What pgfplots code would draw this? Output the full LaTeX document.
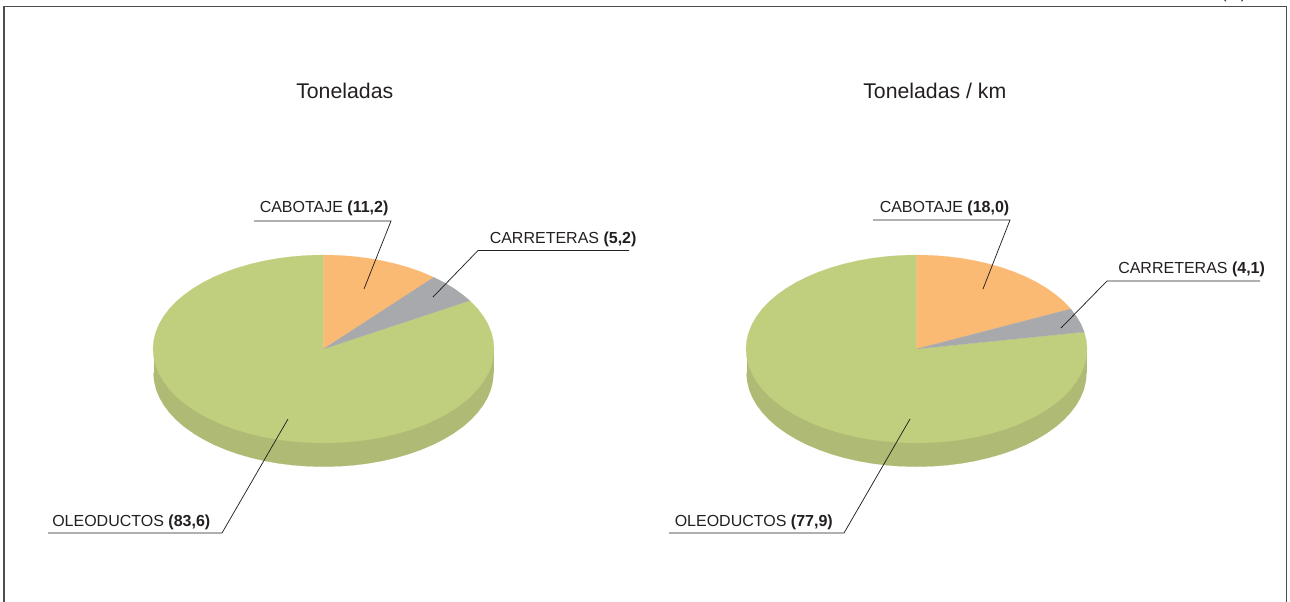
\documentclass[border=0pt]{standalone}
\usepackage{fontspec}
\setmainfont{Liberation Sans}
\usepackage{pgfplots}
\pgfplotsset{compat=1.18}
\definecolor{pgreen}{HTML}{C0CF7E}
\definecolor{pwall}{HTML}{AFBB74}
\definecolor{porange}{HTML}{FBBA74}
\definecolor{pgray}{HTML}{A7A9AC}
\definecolor{ink}{HTML}{231F20}
\definecolor{framec}{HTML}{4D4D4F}
\tikzset{lab/.style={anchor=base west, inner sep=0pt, text=ink, font=\fontsize{12pt}{14pt}\selectfont}}
\pgfplotsset{
  base/.style={scale only axis, width=967.5pt, height=450.75pt, hide axis, at={(0,0)}, anchor=south west},
  pie/.style={base, ymin=-457.1, ymax=633.0},
  w/.style={data cs=polar, fill=#1, draw=#1, line width=0.1pt},
  lead/.style={ink, line width=0.55pt},
  rule/.style={draw=framec, line width=1.05pt},
}
\begin{document}
\begin{tikzpicture}
\clip (0,0) rectangle (967.5pt,450.75pt);
\useasboundingbox (0,0) rectangle (967.5pt,450.75pt);
% ---------- left pie
\begin{axis}[pie, xmin=-323.5, xmax=966.5]
\addplot[fill=pwall, draw=none] coordinates {(-170,0)(170,0)(170,-43.5)(-170,-43.5)} -- cycle;
\addplot[w=pwall, yshift=-18pt] coordinates {(180,170)(185,170)(190,170)(195,170)(200,170)(205,170)(210,170)(215,170)(220,170)(225,170)(230,170)(235,170)(240,170)(245,170)(250,170)(255,170)(260,170)(265,170)(270,170)(275,170)(280,170)(285,170)(290,170)(295,170)(300,170)(305,170)(310,170)(315,170)(320,170)(325,170)(330,170)(335,170)(340,170)(345,170)(350,170)(355,170)(360,170)} -- cycle;
% OLEODUCTOS 83,6
\addplot[w=pgreen] coordinates {(0,0)(30.96,170.5)(30,170.5)(25,170.5)(20,170.5)(15,170.5)(10,170.5)(5,170.5)(0,170.5)(-5,170.5)(-10,170.5)(-15,170.5)(-20,170.5)(-25,170.5)(-30,170.5)(-35,170.5)(-40,170.5)(-45,170.5)(-50,170.5)(-55,170.5)(-60,170.5)(-65,170.5)(-70,170.5)(-75,170.5)(-80,170.5)(-85,170.5)(-90,170.5)(-95,170.5)(-100,170.5)(-105,170.5)(-110,170.5)(-115,170.5)(-120,170.5)(-125,170.5)(-130,170.5)(-135,170.5)(-140,170.5)(-145,170.5)(-150,170.5)(-155,170.5)(-160,170.5)(-165,170.5)(-170,170.5)(-175,170.5)(-180,170.5)(-185,170.5)(-190,170.5)(-195,170.5)(-200,170.5)(-205,170.5)(-210,170.5)(-215,170.5)(-220,170.5)(-225,170.5)(-230,170.5)(-235,170.5)(-240,170.5)(-245,170.5)(-250,170.5)(-255,170.5)(-260,170.5)(-265,170.5)(-270,170.5)} -- cycle;
% CABOTAJE 11,2
\addplot[w=porange] coordinates {(0,0)(90,170.5)(85,170.5)(80,170.5)(75,170.5)(70,170.5)(65,170.5)(60,170.5)(55,170.5)(49.68,170.5)} -- cycle;
% CARRETERAS 5,2
\addplot[w=pgray] coordinates {(0,0)(49.68,170.5)(45,170.5)(40,170.5)(35,170.5)(30.96,170.5)} -- cycle;
\end{axis}
% ---------- right pie
\begin{axis}[pie, xmin=-916.5, xmax=373.5]
\addplot[fill=pwall, draw=none] coordinates {(-170,0)(170,0)(170,-43.5)(-170,-43.5)} -- cycle;
\addplot[w=pwall, yshift=-18pt] coordinates {(180,170)(185,170)(190,170)(195,170)(200,170)(205,170)(210,170)(215,170)(220,170)(225,170)(230,170)(235,170)(240,170)(245,170)(250,170)(255,170)(260,170)(265,170)(270,170)(275,170)(280,170)(285,170)(290,170)(295,170)(300,170)(305,170)(310,170)(315,170)(320,170)(325,170)(330,170)(335,170)(340,170)(345,170)(350,170)(355,170)(360,170)} -- cycle;
% OLEODUCTOS 77,9
\addplot[w=pgreen] coordinates {(0,0)(10.44,170.5)(10,170.5)(5,170.5)(0,170.5)(-5,170.5)(-10,170.5)(-15,170.5)(-20,170.5)(-25,170.5)(-30,170.5)(-35,170.5)(-40,170.5)(-45,170.5)(-50,170.5)(-55,170.5)(-60,170.5)(-65,170.5)(-70,170.5)(-75,170.5)(-80,170.5)(-85,170.5)(-90,170.5)(-95,170.5)(-100,170.5)(-105,170.5)(-110,170.5)(-115,170.5)(-120,170.5)(-125,170.5)(-130,170.5)(-135,170.5)(-140,170.5)(-145,170.5)(-150,170.5)(-155,170.5)(-160,170.5)(-165,170.5)(-170,170.5)(-175,170.5)(-180,170.5)(-185,170.5)(-190,170.5)(-195,170.5)(-200,170.5)(-205,170.5)(-210,170.5)(-215,170.5)(-220,170.5)(-225,170.5)(-230,170.5)(-235,170.5)(-240,170.5)(-245,170.5)(-250,170.5)(-255,170.5)(-260,170.5)(-265,170.5)(-270,170.5)} -- cycle;
% CABOTAJE 18,0
\addplot[w=porange] coordinates {(0,0)(90,170.5)(85,170.5)(80,170.5)(75,170.5)(70,170.5)(65,170.5)(60,170.5)(55,170.5)(50,170.5)(45,170.5)(40,170.5)(35,170.5)(30,170.5)(25.2,170.5)} -- cycle;
% CARRETERAS 4,1
\addplot[w=pgray] coordinates {(0,0)(25.2,170.5)(20,170.5)(15,170.5)(10.44,170.5)} -- cycle;
\end{axis}
% ---------- frame, leader lines and labels, in the reference's pixels
\begin{axis}[base, xmin=0, xmax=1290, ymin=0, ymax=601, y dir=reverse]
\addplot[rule] coordinates {(4,620)(4,6.5)(1286.5,6.5)(1286.5,620)};
\addplot[lead] coordinates {(254,221)(391,221)(364,289)};
\addplot[lead] coordinates {(629,250.5)(478,250.5)(433,297)};
\addplot[lead] coordinates {(48,533)(222,533)(288,419)};
\addplot[lead] coordinates {(873,220)(1010,220)(983,289)};
\addplot[lead] coordinates {(1260,281)(1107,281)(1061,328)};
\addplot[lead] coordinates {(669,533)(844,533)(910,419)};
\node[lab] at (axis cs:259.5,212.5) {CABOTAJE \textbf{(11,2)}};
\node[lab] at (axis cs:489.5,243) {CARRETERAS \textbf{(5,2)}};
\node[lab] at (axis cs:52,526) {OLEODUCTOS \textbf{(83,6)}};
\node[lab] at (axis cs:879.5,212) {CABOTAJE \textbf{(18,0)}};
\node[lab] at (axis cs:1118,273) {CARRETERAS \textbf{(4,1)}};
\node[lab] at (axis cs:674.5,526) {OLEODUCTOS \textbf{(77,9)}};
\node[lab, font=\fontsize{15.95pt}{18pt}\selectfont] at (axis cs:296,98.5) {Toneladas};
\node[lab, font=\fontsize{15.95pt}{18pt}\selectfont] at (axis cs:863,98.5) {Toneladas / km};
\node[lab] at (axis cs:1221,-2) {(\%)};
\end{axis}
\end{tikzpicture}
\end{document}
